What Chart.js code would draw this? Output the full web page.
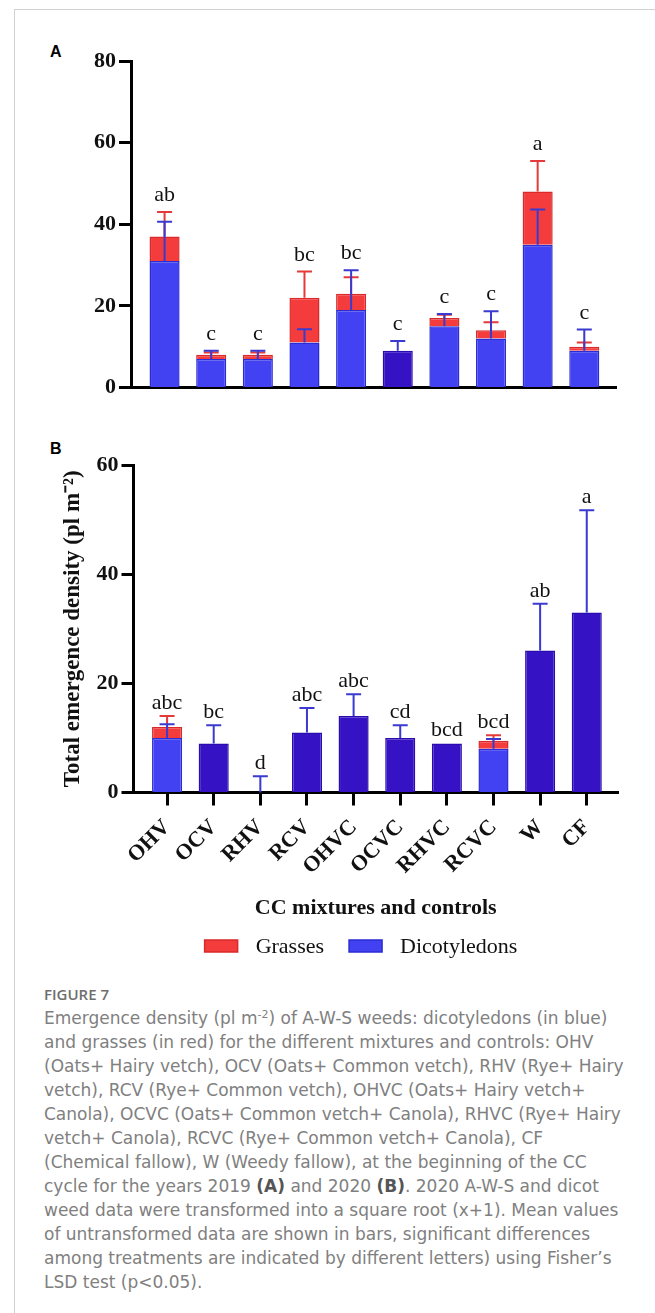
<!DOCTYPE html>
<html>
<head>
<meta charset="utf-8">
<title>Figure 7 – weed emergence density</title>
<script src="https://cdn.jsdelivr.net/npm/chart.js@4.4.1/dist/chart.umd.min.js"></script>
<style>
  html, body { margin: 0; padding: 0; background: #fff; overflow: hidden; }
  body { width: 655px; height: 1313px; position: relative; }
  .frame { position: absolute; left: 14px; top: 9px; right: -2px; bottom: -2px;
           border-left: 1px solid #d2d2d2; border-top: 1px solid #d2d2d2; }
  .tag { position: absolute; font: bold 16px "Liberation Sans", Arial, sans-serif; line-height: 16px; color: #000; }
  .wrap { position: absolute; left: 0; width: 655px; }
  #wrapA { top: 0; height: 420px; }
  #wrapB { top: 420px; height: 560px; }
  .fig-no { position: absolute; left: 44px; top: 983px; font: 600 15px "Open Sans", sans-serif;
            line-height: 22px; color: #6e6e6e; }
  .caption { position: absolute; left: 44px; top: 1006px; font: 400 17px "DejaVu Sans", sans-serif;
             line-height: 24px; color: #808080; white-space: nowrap; }
  .caption b { color: #555; font-weight: 700; }
  .caption sup { font-size: 11px; line-height: 0; vertical-align: 6px; }
</style>
</head>
<body>
<div class="frame"></div>
<div class="tag" style="left:50px;top:44px;">A</div>
<div class="tag" style="left:50px;top:441px;">B</div>
<div class="wrap" id="wrapA"><canvas id="chartA"></canvas></div>
<div class="wrap" id="wrapB"><canvas id="chartB"></canvas></div>
<div class="fig-no">FIGURE 7</div>
<div class="caption">
Emergence density (pl m<sup>-2</sup>) of A-W-S weeds: dicotyledons (in blue)<br>
and grasses (in red) for the different mixtures and controls: OHV<br>
(Oats+ Hairy vetch), OCV (Oats+ Common vetch), RHV (Rye+ Hairy<br>
vetch), RCV (Rye+ Common vetch), OHVC (Oats+ Hairy vetch+<br>
Canola), OCVC (Oats+ Common vetch+ Canola), RHVC (Rye+ Hairy<br>
vetch+ Canola), RCVC (Rye+ Common vetch+ Canola), CF<br>
(Chemical fallow), W (Weedy fallow), at the beginning of the CC<br>
cycle for the years 2019 <b>(A)</b> and 2020 <b>(B)</b>. 2020 A-W-S and dicot<br>
weed data were transformed into a square root (x+1). Mean values<br>
of untransformed data are shown in bars, significant differences<br>
among treatments are indicated by different letters) using Fisher’s<br>
LSD test (p&lt;0.05).
</div>

<script>
// Treatments (cover-crop mixtures and controls)
const categories = ['OHV', 'OCV', 'RHV', 'RCV', 'OHVC', 'OCVC', 'RHVC', 'RCVC', 'W', 'CF'];

// 2019 (panel A): mean emergence density, pl m-2
const dicots2019    = [31, 7, 7, 11, 19, 9, 15, 12, 35, 9];
const grasses2019   = [6, 1, 1, 11, 4, 0, 2, 2, 13, 1];
const dicotErr2019  = [9.6, 2.0, 2.0, 3.3, 9.7, 2.4, 3.0, 6.7, 8.6, 5.2];
const grassErr2019  = [6.0, 0.6, 0.6, 6.4, 4.0, 0, 0.8, 2.0, 7.5, 1.0];
const letters2019   = ['ab', 'c', 'c', 'bc', 'bc', 'c', 'c', 'c', 'a', 'c'];
const yTicks2019    = [0, 20, 40, 60, 80];

// 2020 (panel B)
const dicots2020    = [10, 9, 0, 11, 14, 10, 9, 8, 26, 33];
const grasses2020   = [2, 0, 0, 0, 0, 0, 0, 1.5, 0, 0];
const dicotErr2020  = [2.5, 3.3, 3.0, 4.5, 4.0, 2.3, 0, 1.8, 8.6, 18.7];
const grassErr2020  = [2.0, 0, 0, 0, 0, 0, 0, 1.0, 0, 0];
const letters2020   = ['abc', 'bc', 'd', 'abc', 'abc', 'cd', 'bcd', 'bcd', 'ab', 'a'];
const yTicks2020    = [0, 20, 40, 60];

// Palette
const BLUE = '#4242f3', BLUE_EDGE = '#2c2cd4';
const DARK = '#3612c5', DARK_EDGE = '#2a0cae';
const RED = '#f43c3c', RED_EDGE = '#d82a2a';
const ERR_BLUE = '#3a3ad0', ERR_RED = '#e43a3a';
const SERIF = "'Liberation Serif', 'Times New Roman', serif";

Chart.defaults.font.family = SERIF;
Chart.defaults.color = '#000';

// Error bars (upper side only) and significance letters above each stack
function makeErrorPlugin(dicots, grasses, dicotErr, grassErr, letters, gap) {
  return {
    id: 'errorBarsAndLetters',
    afterDatasetsDraw(chart) {
      const { ctx, scales: { x, y } } = chart;
      const capHalf = 7.5;
      const bar = (cx, from, to, color) => {
        const y0 = y.getPixelForValue(from), y1 = y.getPixelForValue(to);
        ctx.strokeStyle = color;
        ctx.lineWidth = 2;
        ctx.beginPath();
        ctx.moveTo(cx, y0); ctx.lineTo(cx, y1);
        ctx.moveTo(cx - capHalf, y1); ctx.lineTo(cx + capHalf, y1);
        ctx.stroke();
      };
      ctx.save();
      dicots.forEach((dv, i) => {
        const cx = x.getPixelForValue(i);
        const total = dv + grasses[i];
        let top = total;
        if (grassErr[i] > 0) {
          bar(cx, total, total + grassErr[i], ERR_RED);
          top = Math.max(top, total + grassErr[i]);
        }
        if (dicotErr[i] > 0) {
          bar(cx, dv, dv + dicotErr[i], ERR_BLUE);
          top = Math.max(top, dv + dicotErr[i]);
        }
        ctx.fillStyle = '#111';
        ctx.font = '22px ' + SERIF;
        ctx.textAlign = 'center';
        ctx.textBaseline = 'alphabetic';
        ctx.fillText(letters[i], cx, y.getPixelForValue(top) - gap);
      });
      ctx.restore();
    }
  };
}

// Legend drawn under the x-axis title: Grasses first, then Dicotyledons
const bottomLegend = {
  id: 'bottomLegend',
  afterDraw(chart) {
    const ctx = chart.ctx;
    const items = chart.data.datasets.slice().reverse();
    const boxW = 33, boxH = 12, textGap = 18, itemGap = 25, cx = 361, cy = 526;
    ctx.save();
    ctx.font = '22px ' + SERIF;
    const widths = items.map(d => boxW + textGap + ctx.measureText(d.label).width);
    const total = widths.reduce((a, b) => a + b, 0) + itemGap * (items.length - 1);
    let x = cx - total / 2;
    items.forEach((d, k) => {
      ctx.fillStyle = d.legendFill;
      ctx.strokeStyle = d.legendEdge;
      ctx.lineWidth = 1.5;
      ctx.fillRect(x, cy - boxH / 2, boxW, boxH);
      ctx.strokeRect(x, cy - boxH / 2, boxW, boxH);
      ctx.fillStyle = '#111';
      ctx.textAlign = 'left';
      ctx.textBaseline = 'middle';
      ctx.fillText(d.label, x + boxW + textGap, cy + 1);
      x += widths[k] + itemGap;
    });
    ctx.restore();
  }
};

function buildDatasets(dicots, grasses) {
  return [
    {
      label: 'Dicotyledons',
      data: dicots.map((v, i) => ({ x: i, y: v })),
      backgroundColor: grasses.map(g => (g > 0 ? BLUE : DARK)),
      borderColor: grasses.map(g => (g > 0 ? BLUE_EDGE : DARK_EDGE)),
      borderWidth: 1.5,
      legendFill: BLUE, legendEdge: BLUE_EDGE
    },
    {
      label: 'Grasses',
      data: grasses.map((v, i) => ({ x: i, y: v })),
      backgroundColor: RED,
      borderColor: RED_EDGE,
      borderWidth: 1.5,
      legendFill: RED, legendEdge: RED_EDGE
    }
  ];
}

function yScale(ticks, width) {
  return {
    stacked: true,
    min: ticks[0],
    max: ticks[ticks.length - 1],
    afterBuildTicks: s => { s.ticks = ticks.map(v => ({ value: v })); },
    afterFit: s => { s.width = width; },
    grid: { drawOnChartArea: false, tickLength: 12, tickWidth: 3, tickColor: '#000' },
    border: { display: true, width: 3, color: '#000' },
    ticks: { font: { size: 22, weight: 'bold' }, color: '#111', padding: 3 }
  };
}

function xScale(min, max) {
  return {
    type: 'linear', stacked: true, bounds: 'data', min, max,
    offset: false,
    afterBuildTicks: s => { s.ticks = categories.map((c, i) => ({ value: i })); },
    grid: { offset: false, drawOnChartArea: false, tickLength: 13, tickWidth: 3, tickColor: '#000' },
    border: { display: true, width: 3, color: '#000' }
  };
}

// Panel A – 2019
const xA = xScale(-0.72, 9.68);
xA.afterFit = s => { s.height = 0; };
xA.grid.drawTicks = false;
xA.ticks = { display: false };

new Chart(document.getElementById('chartA'), {
  type: 'bar',
  data: { datasets: buildDatasets(dicots2019, grasses2019) },
  options: {
    responsive: true,
    maintainAspectRatio: false,
    animation: false,
    layout: { padding: { left: 0, right: 39, top: 61, bottom: 32.5 } },
    datasets: { bar: { categoryPercentage: 1, barPercentage: 0.645 } },
    plugins: { legend: { display: false }, tooltip: { enabled: false } },
    scales: { x: xA, y: yScale(yTicks2019, 131) }
  },
  plugins: [makeErrorPlugin(dicots2019, grasses2019, dicotErr2019, grassErr2019, letters2019, 11)]
});

// Panel B – 2020
const xB = xScale(-0.72, 9.67);
xB.afterFit = s => { s.height = 128.7; };
xB.ticks = {
  autoSkip: false, minRotation: 45, maxRotation: 45, padding: 9,
  font: { size: 22, weight: 'bold' }, color: '#111',
  callback: v => categories[v]
};
xB.title = {
  display: true, text: 'CC mixtures and controls', padding: 0,
  font: { size: 22, weight: 'bold' }, color: '#111'
};
const yB = yScale(yTicks2020, 74.5);
yB.title = {
  display: true, text: 'Total emergence density (pl m\u207B\u00B2)', padding: 0,
  font: { size: 23, weight: 'bold' }, color: '#111'
};

new Chart(document.getElementById('chartB'), {
  type: 'bar',
  data: { datasets: buildDatasets(dicots2020, grasses2020) },
  options: {
    responsive: true,
    maintainAspectRatio: false,
    animation: false,
    layout: { padding: { left: 59, right: 37, top: 45, bottom: 58.8 } },
    datasets: { bar: { categoryPercentage: 1, barPercentage: 0.645 } },
    plugins: { legend: { display: false }, tooltip: { enabled: false } },
    scales: { x: xB, y: yB }
  },
  plugins: [makeErrorPlugin(dicots2020, grasses2020, dicotErr2020, grassErr2020, letters2020, 7), bottomLegend]
});
</script>
</body>
</html>
